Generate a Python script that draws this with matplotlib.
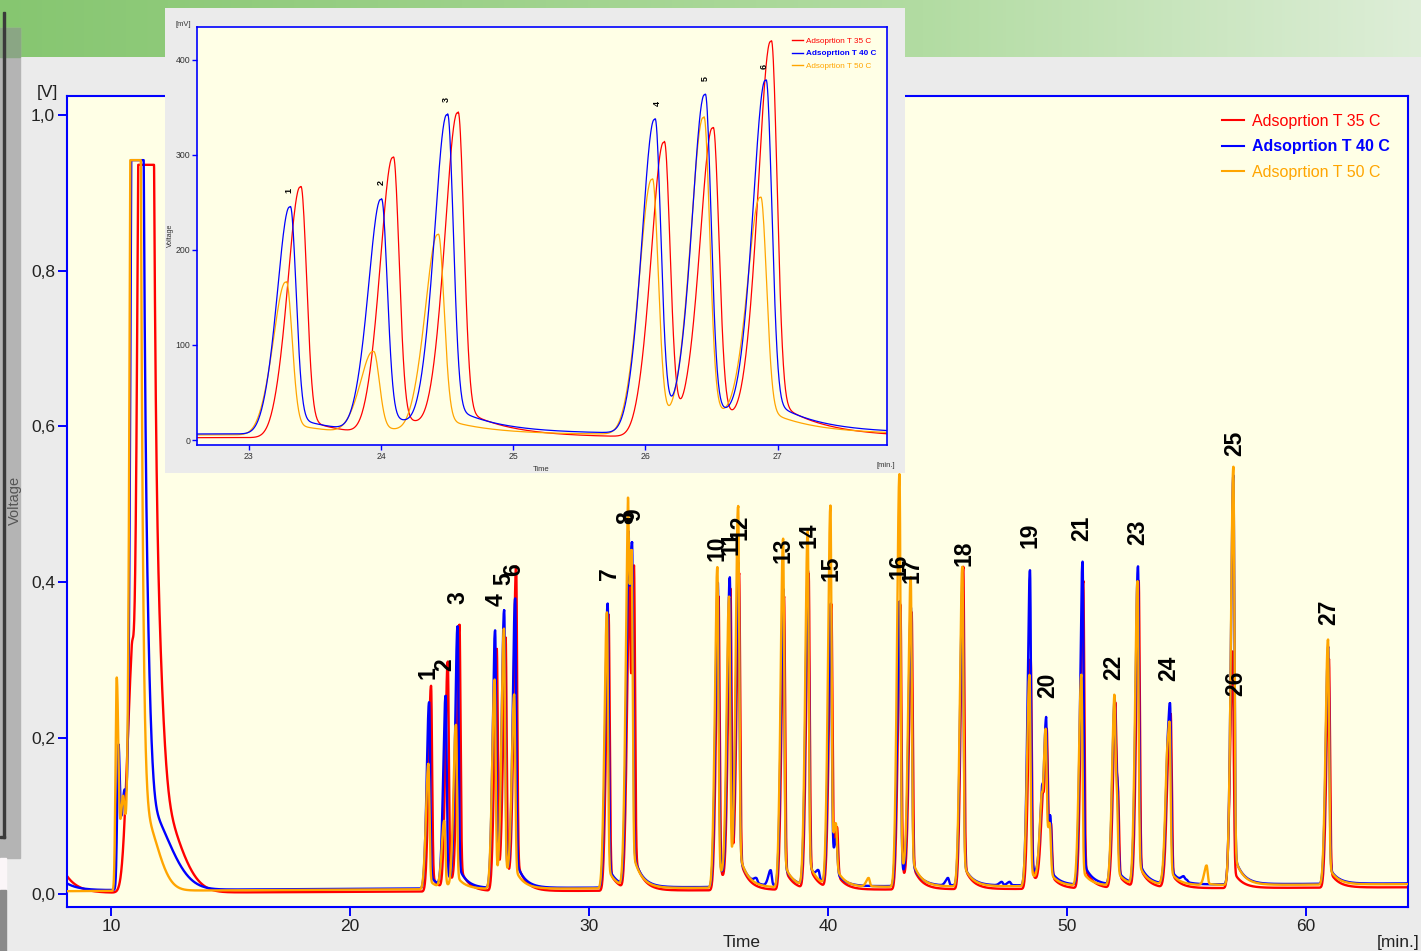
import numpy as np
import matplotlib.pyplot as plt
from matplotlib.ticker import FuncFormatter
from matplotlib.lines import Line2D

plt.rcParams["font.family"] = ["Liberation Sans", "DejaVu Sans"]

# ── Data ──────────────────────────────────────────────────────────────────────
series_names = ["Adsoprtion T 35 C", "Adsoprtion T 40 C", "Adsoprtion T 50 C"]
series_colors = ["#ff0000", "#0000ff", "#ffa500"]

# retention time [min] and apex signal [V] for every resolved peak
rt_35 = [23.39, 24.09, 24.58, 26.14, 26.51, 26.95, 30.82, 31.68, 31.88, 35.42,
         35.92, 36.28, 38.16, 39.19, 40.14, 40.38, 43.03, 43.50, 45.66, 48.48,
         48.97, 49.15, 49.33, 50.68, 52.01, 52.13, 53.00, 54.21, 54.34, 56.93,
         60.96]
h_35 = [0.266, 0.297, 0.344, 0.313, 0.328, 0.419, 0.357, 0.400, 0.420, 0.380,
        0.390, 0.410, 0.380, 0.410, 0.370, 0.085, 0.370, 0.360, 0.418, 0.300,
        0.120, 0.210, 0.090, 0.400, 0.240, 0.140, 0.400, 0.160, 0.230, 0.310,
        0.300]

rt_40 = [23.31, 24.00, 24.50, 26.07, 26.45, 26.91, 30.78, 31.64, 31.80, 35.39,
         35.89, 36.25, 37.00, 37.60, 38.13, 39.16, 39.60, 40.11, 40.35, 43.00,
         43.47, 45.02, 45.63, 47.27, 47.60, 48.45, 48.94, 49.12, 49.30, 50.65,
         51.98, 52.10, 52.97, 54.18, 54.31, 54.87, 55.00, 56.96, 60.93]
h_40 = [0.245, 0.253, 0.342, 0.337, 0.363, 0.378, 0.371, 0.446, 0.450, 0.398,
        0.405, 0.424, 0.020, 0.030, 0.390, 0.413, 0.030, 0.371, 0.070, 0.374,
        0.366, 0.020, 0.392, 0.015, 0.015, 0.414, 0.130, 0.225, 0.100, 0.425,
        0.248, 0.150, 0.419, 0.170, 0.244, 0.020, 0.012, 0.535, 0.316]

rt_50 = [23.28, 23.94, 24.43, 26.05, 26.44, 26.87, 30.75, 31.62, 31.78, 35.37,
         35.86, 36.24, 38.12, 39.15, 40.10, 40.33, 41.70, 42.99, 43.46, 45.62,
         48.43, 48.92, 49.10, 49.28, 50.60, 51.97, 52.08, 52.95, 54.16, 54.29,
         55.84, 56.96, 60.92]
h_50 = [0.166, 0.093, 0.216, 0.274, 0.339, 0.255, 0.360, 0.492, 0.440, 0.418,
        0.380, 0.496, 0.454, 0.464, 0.496, 0.090, 0.020, 0.537, 0.405, 0.418,
        0.280, 0.120, 0.210, 0.090, 0.280, 0.250, 0.140, 0.400, 0.160, 0.220,
        0.036, 0.546, 0.325]

# solvent front (centre, height, left / right width), clipped at detector max
solv_rt_35 = [10.85, 11.47, 11.72, 11.80]
solv_h_35 = [0.25, 3.0, 0.38, 0.13]
solv_wl_35 = [0.20, 0.22, 0.05, 0.10]
solv_wr_35 = [0.10, 0.17, 0.30, 0.90]

solv_rt_40 = [10.31, 10.55, 11.07, 11.30, 11.40]
solv_h_40 = [0.17, 0.12, 3.0, 0.45, 0.11]
solv_wl_40 = [0.05, 0.12, 0.15, 0.05, 0.10]
solv_wr_40 = [0.06, 0.10, 0.15, 0.22, 0.95]

solv_rt_50 = [10.24, 10.50, 11.00, 11.20, 11.30]
solv_h_50 = [0.27, 0.12, 3.0, 0.25, 0.10]
solv_wl_50 = [0.05, 0.10, 0.13, 0.05, 0.10]
solv_wr_50 = [0.07, 0.10, 0.14, 0.16, 0.60]

saturation = [0.936, 0.942, 0.942]

# baseline: level at 8 min, level at 64 min, extra offset at run start [V]
baseline_35 = [0.0005, 0.008, 0.022]
baseline_40 = [0.004, 0.013, 0.009]
baseline_50 = [0.003, 0.012, 0.0]

# peak numbering as printed on the chart (time [min], label height [V])
label_text = [str(i) for i in range(1, 28)]
label_t = [23.26, 23.97, 24.52, 26.11, 26.42, 26.86, 30.84, 31.59, 31.88, 35.36,
           35.94, 36.32, 38.12, 39.21, 40.13, 42.97, 43.51, 45.69, 48.45, 49.21,
           50.63, 51.97, 52.97, 54.27, 57.03, 57.07, 60.96]
label_v = [0.284, 0.294, 0.380, 0.377, 0.405, 0.416, 0.411, 0.483, 0.486, 0.443,
           0.450, 0.470, 0.441, 0.460, 0.418, 0.420, 0.415, 0.437, 0.460, 0.267,
           0.469, 0.290, 0.464, 0.289, 0.578, 0.270, 0.361]

# zoomed window: labels of peaks 1-6 (time [min], label height [mV])
inset_label_t = [23.30, 24.00, 24.49, 26.09, 26.45, 26.90]
inset_label_mv = [263, 271, 358, 354, 380, 393]


# ── Trace construction ────────────────────────────────────────────────────────

def band(t, rt, h, wl, wr):
    d = t - rt
    s = np.where(d < 0, wl, wr)
    return h * np.exp(-0.5 * (d / s) ** 2)


def peak(t, rt, h):
    # steep back side, slight fronting shoulder, small exponential tail
    d = t - rt
    dp = np.clip(d, 0, None)
    core = band(t, rt, 1.0, 0.085, 0.045)
    front = 0.12 * np.exp(-0.5 * ((d + 0.14) / 0.07) ** 2)
    tail = 0.08 * np.exp(-dp / 0.35) * (1 - np.exp(-dp / 0.03))
    return h * (core + front + tail)


def background(t, s_rt, s_h, s_wl, s_wr, sat, base):
    y = base[0] + (base[1] - base[0]) * (t - 8.0) / 56.0
    y = y + base[2] * np.exp(-(t - 8.16) / 0.5)
    solvent = sum(band(t, *p) for p in zip(s_rt, s_h, s_wl, s_wr))
    return np.minimum(y + solvent, sat)


def trace(t, rts, hs, s_rt, s_h, s_wl, s_wr, sat, base):
    rts = np.asarray(rts)
    hs = np.asarray(hs)
    # the read heights are apex signals, so remove what neighbours and the
    # baseline already contribute there
    amps = hs.copy()
    floor = background(rts, s_rt, s_h, s_wl, s_wr, sat, base)
    shape = np.array([peak(rts, r, 1.0) for r in rts])   # shape[j, i]
    for _ in range(6):
        apex = floor + amps @ shape
        amps = np.clip(amps + (hs - apex), 0.25 * hs, None)
    y = background(t, s_rt, s_h, s_wl, s_wr, sat, base)
    for rt, a in zip(rts, amps):
        y = y + peak(t, rt, a)
    return y


t = np.arange(8.1, 64.4, 0.004)
traces = [
    trace(t, rt_35, h_35, solv_rt_35, solv_h_35, solv_wl_35, solv_wr_35,
          saturation[0], baseline_35),
    trace(t, rt_40, h_40, solv_rt_40, solv_h_40, solv_wl_40, solv_wr_40,
          saturation[1], baseline_40),
    trace(t, rt_50, h_50, solv_rt_50, solv_h_50, solv_wl_50, solv_wr_50,
          saturation[2], baseline_50),
]
draw_order = [0, 2, 1]   # blue ends up on top

# ── Figure & background ───────────────────────────────────────────────────────
W, H = 1421, 951
fig = plt.figure(figsize=(W / 100, H / 100), dpi=100, facecolor="#ebebeb")


def frac(x0, y0, x1, y1):
    # pixel box (top-left origin) -> figure fraction rect
    return [x0 / W, 1 - y1 / H, (x1 - x0) / W, (y1 - y0) / H]


bg = fig.add_axes([0, 0, 1, 1], zorder=0)
bg.set_xlim(0, W)
bg.set_ylim(H, 0)
bg.axis("off")

# green header strip
grad = np.linspace(0, 1, W)[:, None]
c_left = np.array([134, 198, 112]) / 255
c_mid = np.array([178, 220, 162]) / 255
c_right = np.array([222, 238, 216]) / 255
cols = np.where(grad < 0.65,
                c_left + (c_mid - c_left) * (grad / 0.65),
                c_mid + (c_right - c_mid) * ((grad - 0.65) / 0.35))
strip = np.repeat(cols[None, :, :], 57, axis=0)
bg.imshow(strip, extent=(0, W, 57, 0), aspect="auto", zorder=0)

# left side panel
bg.add_patch(plt.Rectangle((0, 28), 20, 830, color="#b4b4b4", zorder=1))
bg.add_patch(plt.Rectangle((0, 28), 20, 29, color="#8aa684", zorder=1))
bg.add_patch(plt.Rectangle((3, 12), 2, 826, color="#3a3a3a", zorder=2))
bg.add_patch(plt.Rectangle((0, 836), 5, 2, color="#3a3a3a", zorder=2))
bg.add_patch(plt.Rectangle((0, 858), 6, 32, color="#fbf6f8", zorder=1))
bg.add_patch(plt.Rectangle((0, 890), 6, 61, color="#8a8a8a", zorder=1))

# ── Main chromatogram ─────────────────────────────────────────────────────────
ax = fig.add_axes(frac(67, 96, 1408, 907), zorder=1)
ax.set_facecolor("#ffffe6")
for i in draw_order:
    ax.plot(t, traces[i], color=series_colors[i], lw=1.7, zorder=2 + i)

ax.set_xlim(8.16, 64.27)
ax.set_ylim(-0.0173, 1.0244)
ax.set_xticks([10, 20, 30, 40, 50, 60])
ax.set_yticks([0.0, 0.2, 0.4, 0.6, 0.8, 1.0])
ax.yaxis.set_major_formatter(FuncFormatter(lambda v, p: f"{v:.1f}".replace(".", ",")))
ax.tick_params(direction="out", length=6.5, width=1.4, color="#0000ff",
               labelsize=12.5, labelcolor="#222222", pad=2)
for sp in ax.spines.values():
    sp.set_color("#0000ff")
    sp.set_linewidth(1.5)

for txt, lt, lv in zip(label_text, label_t, label_v):
    ax.text(lt, lv, txt, rotation=90, ha="center", va="center",
            fontsize=16.5, fontweight="bold", color="black", zorder=10)

handles = [Line2D([], [], color=c, lw=1.5) for c in series_colors]
leg = ax.legend(handles, series_names, loc="upper left",
                bbox_to_anchor=(0.8613, 0.978), frameon=False, fontsize=11.5,
                handlelength=1.4, handletextpad=0.45, labelspacing=0.65,
                borderpad=0, borderaxespad=0)
for txt, c in zip(leg.get_texts(), series_colors):
    txt.set_color(c)
leg.get_texts()[1].set_fontweight("bold")

fig.text(47 / W, 1 - 92 / H, "[V]", fontsize=12.5, color="#222222",
         ha="center", va="center")
fig.text(15 / W, 1 - 500 / H, "Voltage", fontsize=10.5, color="#555555",
         rotation=90, ha="center", va="center")
# axis titles sit at the bottom edge of the screenshot
fig.text(723 / W, 1 - 950 / H, "Time", fontsize=12.5, color="#222222",
         ha="left", va="bottom")
fig.text(1419 / W, 1 - 950 / H, "[min.]", fontsize=12.5, color="#222222",
         ha="right", va="bottom")

# ── Zoomed window, peaks 1-6 ──────────────────────────────────────────────────
panel = fig.add_axes(frac(165, 8, 905, 473), zorder=2)
panel.set_facecolor("#ebebeb")
panel.set_xticks([])
panel.set_yticks([])
for sp in panel.spines.values():
    sp.set_visible(False)

ins = fig.add_axes(frac(197, 27, 887, 445), zorder=3)
ins.set_facecolor("#ffffe6")
for i in draw_order:
    ins.plot(t, traces[i] * 1000, color=series_colors[i], lw=0.9)
ins.set_xlim(22.607, 27.828)
ins.set_ylim(-5.26, 434.7)
ins.set_xticks([23, 24, 25, 26, 27])
ins.set_yticks([0, 100, 200, 300, 400])
ins.tick_params(direction="out", length=3.5, width=1.0, color="#0000ff",
                labelsize=6.3, labelcolor="#333333", pad=1.5)
for sp in ins.spines.values():
    sp.set_color("#0000ff")
    sp.set_linewidth(1.2)

for txt, lt, lv in zip(label_text, inset_label_t, inset_label_mv):
    ins.text(lt, lv, txt, rotation=90, ha="center", va="center",
             fontsize=6.5, fontweight="bold", color="black")

ileg = ins.legend([Line2D([], [], color=c, lw=1.0) for c in series_colors],
                  series_names, loc="upper left", bbox_to_anchor=(0.862, 0.976),
                  frameon=False, fontsize=5.9, handlelength=1.34,
                  handletextpad=0.37, labelspacing=0.6, borderpad=0,
                  borderaxespad=0)
for txt, c in zip(ileg.get_texts(), series_colors):
    txt.set_color(c)
ileg.get_texts()[1].set_fontweight("bold")

fig.text(183 / W, 1 - 24 / H, "[mV]", fontsize=5.5, color="#333333",
         ha="center", va="center", zorder=5)
fig.text(170 / W, 1 - 235 / H, "Voltage", fontsize=5, color="#333333",
         rotation=90, ha="center", va="center", zorder=5)
fig.text(541 / W, 1 - 469 / H, "Time", fontsize=5.5, color="#333333",
         ha="center", va="center", zorder=5)
fig.text(886 / W, 1 - 465 / H, "[min.]", fontsize=5.5, color="#333333",
         ha="center", va="center", zorder=5)

fig.savefig("out.png", dpi=100, facecolor=fig.get_facecolor())
